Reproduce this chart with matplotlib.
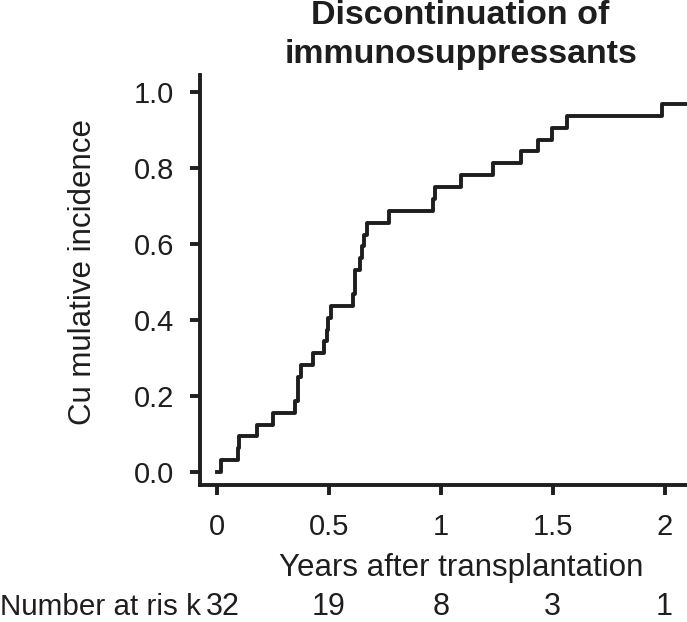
import matplotlib
matplotlib.use('Agg')
import matplotlib.pyplot as plt

plt.rcParams['font.family'] = ['Liberation Sans', 'DejaVu Sans']

times = [0.0, 0.02, 0.095, 0.10, 0.178, 0.25, 0.348, 0.362, 0.362, 0.375,
         0.428, 0.478, 0.491, 0.498, 0.509, 0.607, 0.616, 0.616, 0.638,
         0.647, 0.656, 0.67, 0.768, 0.964, 0.973, 1.089, 1.232, 1.36,
         1.433, 1.498, 1.5625, 1.99, 2.1]
incidence = [0.0, 0.031, 0.063, 0.094, 0.125, 0.156, 0.188, 0.219, 0.25,
             0.281, 0.313, 0.344, 0.375, 0.406, 0.438, 0.469, 0.5, 0.531,
             0.563, 0.594, 0.625, 0.656, 0.688, 0.719, 0.75, 0.781, 0.813,
             0.844, 0.875, 0.906, 0.938, 0.969, 0.969]

risk_times = [0, 0.5, 1, 1.5, 2]
at_risk = [32, 19, 8, 3, 1]
xticks = [0, 0.5, 1, 1.5, 2]
xtick_labels = ['0', '0.5', '1', '1.5', '2']
yticks = [0.0, 0.2, 0.4, 0.6, 0.8, 1.0]

ink = '#1e1e1e'
fig = plt.figure(figsize=(6.87, 6.22), dpi=100)
ax = fig.add_axes([0.291, 0.2203, 0.709, 0.6591])

ax.step(times, incidence, where='post', color=ink, lw=2.8)

ax.set_xlim(-0.076, 2.1)
ax.set_ylim(-0.034, 1.045)
ax.set_xticks(xticks)
ax.set_xticklabels(xtick_labels)
ax.set_yticks(yticks)
ax.set_yticklabels(['%.1f' % v for v in yticks])

for s in ['top', 'right']:
    ax.spines[s].set_visible(False)
for s in ['left', 'bottom']:
    ax.spines[s].set_linewidth(2.8)
    ax.spines[s].set_color(ink)
ax.tick_params(width=2.8, length=7.5, labelsize=21, color=ink,
               labelcolor=ink, pad=11)
ax.tick_params(axis='x', pad=12.5)

fig.text(83 / 687, 1 - 272 / 622, 'Cu mulative incidence', fontsize=22.5,
         rotation=90, ha='center', va='center', color=ink)
fig.text(461 / 687, 1 - 568 / 622, 'Years after transplantation',
         fontsize=22.5, ha='center', va='center', color=ink)

fig.text(0.0, 1 - 615 / 622, 'Number at ris k', fontsize=21.3, ha='left',
         va='baseline', color=ink)
for t, n in zip(risk_times, at_risk):
    ax.text(t + (0.025 if n == 32 else 0), -0.376, str(n), fontsize=22,
            ha='center', va='baseline', color=ink)

fig.text(460 / 687, 1 - 24 / 622, 'Discontinuation of', fontsize=24.5,
         fontweight='bold', ha='center', va='baseline', color=ink)
fig.text(461 / 687, 1 - 63 / 622, 'immunosuppressants', fontsize=24.5,
         fontweight='bold', ha='center', va='baseline', color=ink)

fig.savefig('out.png', dpi=100)
